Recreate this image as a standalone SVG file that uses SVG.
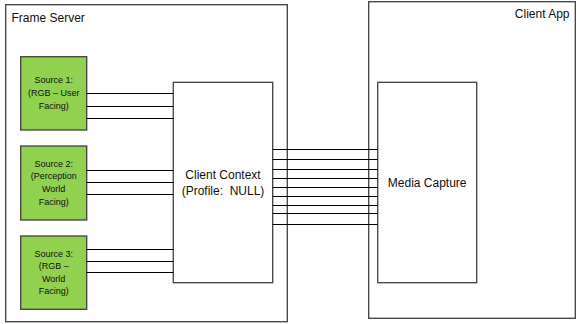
<svg xmlns="http://www.w3.org/2000/svg" width="583" height="324" viewBox="0 0 583 324">
<style>
.box{fill:#fff;stroke:#3f3f3f;stroke-width:1.3}
.src{fill:#92d050;stroke:#3f3f3f;stroke-width:1.3}
.t{font-family:"Liberation Sans",Arial,sans-serif;font-size:12px;fill:#111}
.s{font-family:"Liberation Sans",Arial,sans-serif;font-size:9px;fill:#111;text-anchor:middle}
.c{stroke:#000;stroke-width:1;fill:none}
</style>
<rect width="583" height="324" fill="#fff"/>
<g id="frame-server">
<rect class="box" x="5.7" y="4.7" width="281.6" height="317"/>
<text class="t" x="11.5" y="21.7">Frame Server</text>
</g>
<g id="client-app">
<rect class="box" x="368.7" y="1.7" width="206.6" height="316.6"/>
<text class="t" x="569.5" y="18.3" text-anchor="end">Client App</text>
</g>
<g id="source1">
<rect class="src" x="20.7" y="56.7" width="66" height="73.3"/>
<text class="s" x="53.7" y="83.3">Source 1:</text>
<text class="s" x="53.7" y="96.3">(RGB – User</text>
<text class="s" x="53.7" y="109.3">Facing)</text>
</g>
<g id="source2">
<rect class="src" x="20.7" y="146" width="66" height="74"/>
<text class="s" x="53.7" y="166.7">Source 2:</text>
<text class="s" x="53.7" y="179.3">(Perception</text>
<text class="s" x="53.7" y="191.9">World</text>
<text class="s" x="53.7" y="204.5">Facing)</text>
</g>
<g id="source3">
<rect class="src" x="20.7" y="236" width="66" height="73.3"/>
<text class="s" x="53.7" y="256.7">Source 3:</text>
<text class="s" x="53.7" y="269.2">(RGB –</text>
<text class="s" x="53.7" y="281.7">World</text>
<text class="s" x="53.7" y="294.2">Facing)</text>
</g>
<g id="client-context">
<rect class="box" x="173.3" y="82.3" width="99.4" height="200.4"/>
<text class="t" x="223" y="179" text-anchor="middle">Client Context</text>
<text class="t" x="223" y="195" text-anchor="middle" xml:space="preserve">(Profile:  NULL)</text>
</g>
<g id="media-capture">
<rect class="box" x="377.7" y="82.3" width="99" height="200.4"/>
<text class="t" x="427.2" y="186.7" text-anchor="middle">Media Capture</text>
</g>
<g id="connectors">
<path class="c" d="M86.7 93.5H173.3M86.7 106.5H173.3M86.7 118.5H173.3M86.7 170.5H173.3M86.7 182.5H173.3M86.7 194.5H173.3M86.7 249.5H173.3M86.7 261.5H173.3M86.7 272.5H173.3"/>
<path class="c" d="M272.7 149.5H377.7M272.7 159.5H377.7M272.7 169.5H377.7M272.7 178.5H377.7M272.7 187.5H377.7M272.7 196.5H377.7M272.7 205.5H377.7M272.7 213.5H377.7M272.7 224.5H377.7"/>
</g>
</svg>
